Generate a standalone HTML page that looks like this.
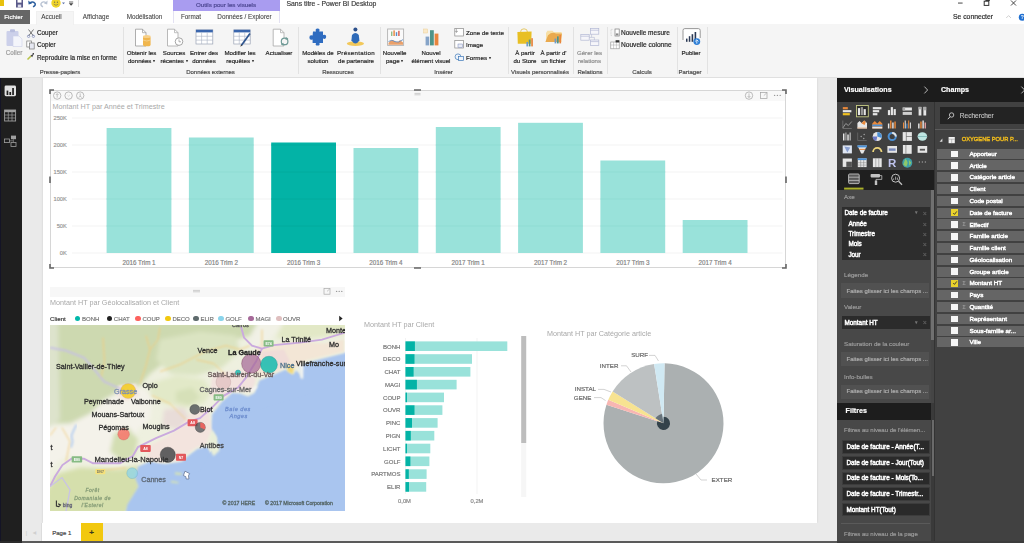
<!DOCTYPE html><html><head><meta charset="utf-8"><title>Power BI Desktop</title><style>
html,body{margin:0;padding:0;}
body{width:1024px;height:543px;position:relative;overflow:hidden;background:#eaeaea;
font-family:"Liberation Sans",sans-serif;}
.t{position:absolute;white-space:nowrap;line-height:1;-webkit-text-stroke:0.18px currentColor;}
.r{position:absolute;}
svg{position:absolute;overflow:visible;}
#wrap{position:absolute;left:0;top:0;width:1024px;height:543px;overflow:hidden;filter:blur(0.45px);}
</style></head><body><div id="wrap"><div class="r" style="left:0px;top:78px;width:22px;height:465px;background:#1f1f1f;"></div><div class="r" style="left:0px;top:78px;width:1px;height:465px;background:#141426;"></div><svg style="left:0;top:79.2px" width="22" height="80" viewBox="0 0 22 80"><rect x="4.6" y="6.6" width="11.4" height="10.6" rx="1.4" fill="#e2e2e2"/><rect x="6.6" y="11.6" width="1.7" height="4.4" fill="#1f1f1f"/><rect x="9.4" y="13" width="1.7" height="3" fill="#1f1f1f"/><rect x="12.2" y="9" width="1.7" height="7" fill="#1f1f1f"/><rect x="4.6" y="31" width="11" height="11" fill="none" stroke="#a0a0a0" stroke-width="0.9"/><rect x="4.6" y="31" width="11" height="2.2" fill="#a0a0a0"/><path d="M8.3 31 L8.3 42 M12 31 L12 42 M4.6 36 L15.6 36 M4.6 39 L15.6 39" stroke="#a0a0a0" stroke-width="0.7"/><rect x="4.4" y="60" width="5" height="3.6" fill="none" stroke="#a0a0a0" stroke-width="0.8"/><rect x="11" y="56.6" width="5" height="3.6" fill="#a0a0a0"/><rect x="11" y="63.4" width="5" height="4" fill="none" stroke="#a0a0a0" stroke-width="0.8"/><path d="M9.4 61.8 L13.4 61.8 L13.4 60.2 M13.4 61.8 L13.4 63.4" stroke="#a0a0a0" stroke-width="0.6" fill="none"/></svg><div class="r" style="left:42.6px;top:78px;width:774.2px;height:445px;background:#ffffff;box-shadow:0 0 2px rgba(0,0,0,0.12);"></div><div class="r" style="left:22px;top:523px;width:815px;height:18.2px;background:#eaeaea;"></div><div class="r" style="left:40.5px;top:523px;width:40.5px;height:18px;background:#ffffff;border-left:1px solid #dcdcdc;box-sizing:border-box;"></div><div class="t" style="left:61.8px;top:532.8px;font-size:6.0px;color:#444;font-weight:normal;transform:translate(-50%,-50%);">Page 1</div><div class="r" style="left:81px;top:523px;width:21.5px;height:18px;background:#f2c80f;"></div><div class="t" style="left:91.7px;top:532.5px;font-size:8px;color:#3a3a20;font-weight:bold;transform:translate(-50%,-50%);">+</div><div class="t" style="left:26.5px;top:532.5px;font-size:5px;color:#cfcfcf;font-weight:normal;transform:translate(-50%,-50%);">|</div><div class="t" style="left:34.5px;top:532.5px;font-size:4px;color:#cfcfcf;font-weight:normal;transform:translate(-50%,-50%);">&#9664;</div><div class="r" style="left:0px;top:541.2px;width:837.4px;height:2px;background:#5a5a5a;"></div><div class="r" style="left:0px;top:541.2px;width:22px;height:2px;background:#2a2a2a;"></div><div class="r" style="left:50px;top:90px;width:736px;height:178px;background:#ffffff;border:0.8px solid #d6d6d6;box-sizing:border-box;"></div><div class="r" style="left:50.8px;top:90.8px;width:734.4px;height:10px;background:#f8f8f8;"></div><svg style="left:0;top:0" width="830" height="543" viewBox="0 0 830 543"><path d="M72 253 L782.5 253" stroke="#f0f0f0" stroke-width="0.8"/><path d="M72 226 L782.5 226" stroke="#f0f0f0" stroke-width="0.8"/><path d="M72 199 L782.5 199" stroke="#f0f0f0" stroke-width="0.8"/><path d="M72 172 L782.5 172" stroke="#f0f0f0" stroke-width="0.8"/><path d="M72 145 L782.5 145" stroke="#f0f0f0" stroke-width="0.8"/><path d="M72 118 L782.5 118" stroke="#f0f0f0" stroke-width="0.8"/><rect x="106.6" y="128" width="64.8" height="125" fill="#99e2da"/><rect x="188.9" y="137.5" width="64.8" height="115.5" fill="#99e2da"/><rect x="271.2" y="142.5" width="64.8" height="110.5" fill="#03b3a6"/><rect x="353.5" y="148" width="64.8" height="105" fill="#99e2da"/><rect x="435.8" y="127" width="64.8" height="126" fill="#99e2da"/><rect x="518.1" y="122.8" width="64.8" height="130.2" fill="#99e2da"/><rect x="600.4" y="160.5" width="64.8" height="92.5" fill="#99e2da"/><rect x="682.7" y="220" width="64.8" height="33" fill="#99e2da"/><path d="M106.6 226 L171.4 226" stroke="#8edcd2" stroke-width="0.8"/><path d="M106.6 199 L171.4 199" stroke="#8edcd2" stroke-width="0.8"/><path d="M106.6 172 L171.4 172" stroke="#8edcd2" stroke-width="0.8"/><path d="M106.6 145 L171.4 145" stroke="#8edcd2" stroke-width="0.8"/><path d="M188.9 226 L253.7 226" stroke="#8edcd2" stroke-width="0.8"/><path d="M188.9 199 L253.7 199" stroke="#8edcd2" stroke-width="0.8"/><path d="M188.9 172 L253.7 172" stroke="#8edcd2" stroke-width="0.8"/><path d="M188.9 145 L253.7 145" stroke="#8edcd2" stroke-width="0.8"/><path d="M271.2 226 L336.0 226" stroke="#02aa9d" stroke-width="0.8"/><path d="M271.2 199 L336.0 199" stroke="#02aa9d" stroke-width="0.8"/><path d="M271.2 172 L336.0 172" stroke="#02aa9d" stroke-width="0.8"/><path d="M271.2 145 L336.0 145" stroke="#02aa9d" stroke-width="0.8"/><path d="M353.5 226 L418.3 226" stroke="#8edcd2" stroke-width="0.8"/><path d="M353.5 199 L418.3 199" stroke="#8edcd2" stroke-width="0.8"/><path d="M353.5 172 L418.3 172" stroke="#8edcd2" stroke-width="0.8"/><path d="M435.8 226 L500.6 226" stroke="#8edcd2" stroke-width="0.8"/><path d="M435.8 199 L500.6 199" stroke="#8edcd2" stroke-width="0.8"/><path d="M435.8 172 L500.6 172" stroke="#8edcd2" stroke-width="0.8"/><path d="M435.8 145 L500.6 145" stroke="#8edcd2" stroke-width="0.8"/><path d="M518.1 226 L582.9 226" stroke="#8edcd2" stroke-width="0.8"/><path d="M518.1 199 L582.9 199" stroke="#8edcd2" stroke-width="0.8"/><path d="M518.1 172 L582.9 172" stroke="#8edcd2" stroke-width="0.8"/><path d="M518.1 145 L582.9 145" stroke="#8edcd2" stroke-width="0.8"/><path d="M600.4 226 L665.2 226" stroke="#8edcd2" stroke-width="0.8"/><path d="M600.4 199 L665.2 199" stroke="#8edcd2" stroke-width="0.8"/><path d="M600.4 172 L665.2 172" stroke="#8edcd2" stroke-width="0.8"/><path d="M682.7 226 L747.5 226" stroke="#8edcd2" stroke-width="0.8"/><path d="M50 94 L50 90 L54 90" stroke="#666" stroke-width="1.6" fill="none"/><path d="M782 90 L786 90 L786 94" stroke="#666" stroke-width="1.6" fill="none"/><path d="M50 264 L50 268 L54 268" stroke="#666" stroke-width="1.6" fill="none"/><path d="M782 268 L786 268 L786 264" stroke="#666" stroke-width="1.6" fill="none"/><path d="M414 90 L421 90 M414 268 L421 268" stroke="#666" stroke-width="1.6"/><path d="M50 176.5 L50 183 M786 176.5 L786 183" stroke="#666" stroke-width="1.6"/><path d="M414.5 93.4 L420.5 93.4 M414.5 94.8 L420.5 94.8" stroke="#bbb" stroke-width="0.7"/><circle cx="57.2" cy="95.6" r="3.7" fill="none" stroke="#a0a0a0" stroke-width="0.7"/><circle cx="68.6" cy="95.6" r="3.7" fill="none" stroke="#a0a0a0" stroke-width="0.7"/><circle cx="80.2" cy="95.6" r="3.7" fill="none" stroke="#a0a0a0" stroke-width="0.7"/><path d="M57.2 97.6 L57.2 93.8 M55.8 95 L57.2 93.6 L58.6 95" stroke="#a0a0a0" stroke-width="0.6" fill="none"/><path d="M67.4 95 L68.6 96.2 L69.8 95" stroke="#c4c4c4" stroke-width="0.6" fill="none"/><path d="M80.2 93.4 L80.2 96 M78.8 97.6 L80.2 96 L81.6 97.6" stroke="#a0a0a0" stroke-width="0.6" fill="none"/><circle cx="749" cy="95.6" r="3.7" fill="none" stroke="#a0a0a0" stroke-width="0.7"/><path d="M749 93.4 L749 97.4 M747.6 96 L749 97.6 L750.4 96" stroke="#a0a0a0" stroke-width="0.6" fill="none"/><rect x="760.6" y="92.6" width="6.4" height="5.8" fill="none" stroke="#a0a0a0" stroke-width="0.7"/><path d="M763.8 95.6 L766.8 92.8" stroke="#a0a0a0" stroke-width="0.6"/><circle cx="774.6" cy="95.4" r="0.7" fill="#999"/><circle cx="777.4" cy="95.4" r="0.7" fill="#999"/><circle cx="780.2" cy="95.4" r="0.7" fill="#999"/><path d="M405.5 338 L405.5 494 M477 338 L477 494" stroke="#eeeeee" stroke-width="0.7"/><rect x="405.5" y="341.4" width="101.8" height="9.6" fill="#99e2da"/><rect x="405.5" y="341.4" width="9.4" height="9.6" fill="#03b3a6"/><rect x="405.5" y="354.2" width="66.5" height="9.6" fill="#99e2da"/><rect x="405.5" y="354.2" width="9.0" height="9.6" fill="#03b3a6"/><rect x="405.5" y="367.0" width="64.9" height="9.6" fill="#99e2da"/><rect x="405.5" y="367.0" width="8.1" height="9.6" fill="#03b3a6"/><rect x="405.5" y="379.8" width="51.1" height="9.6" fill="#99e2da"/><rect x="405.5" y="379.8" width="11.4" height="9.6" fill="#03b3a6"/><rect x="405.5" y="392.6" width="38.5" height="9.6" fill="#99e2da"/><rect x="405.5" y="392.6" width="1.5" height="9.6" fill="#03b3a6"/><rect x="405.5" y="405.3" width="36.9" height="9.6" fill="#99e2da"/><rect x="405.5" y="405.3" width="9.0" height="9.6" fill="#03b3a6"/><rect x="405.5" y="418.1" width="32.1" height="9.6" fill="#99e2da"/><rect x="405.5" y="418.1" width="6.5" height="9.6" fill="#03b3a6"/><rect x="405.5" y="430.9" width="28.8" height="9.6" fill="#99e2da"/><rect x="405.5" y="430.9" width="5.3" height="9.6" fill="#03b3a6"/><rect x="405.5" y="443.7" width="24.8" height="9.6" fill="#99e2da"/><rect x="405.5" y="443.7" width="1.5" height="9.6" fill="#03b3a6"/><rect x="405.5" y="456.5" width="23.9" height="9.6" fill="#99e2da"/><rect x="405.5" y="456.5" width="4.9" height="9.6" fill="#03b3a6"/><rect x="405.5" y="469.3" width="21.1" height="9.6" fill="#99e2da"/><rect x="405.5" y="469.3" width="3.3" height="9.6" fill="#03b3a6"/><rect x="405.5" y="482.1" width="20.7" height="9.6" fill="#99e2da"/><rect x="405.5" y="482.1" width="3.5" height="9.6" fill="#03b3a6"/><rect x="521.2" y="336" width="5" height="161" fill="#f6f6f6"/><rect x="521.2" y="336" width="5" height="107" fill="#bdbdbd"/><path d="M663.5 423.3 L664.55 363.31 A60 60 0 1 1 606.44 404.76 Z" fill="#abb0b1"/><path d="M663.5 423.3 L606.44 404.76 A60 60 0 0 1 608.27 399.86 Z" fill="#f8b6b2"/><path d="M663.5 423.3 L608.27 399.86 A60 60 0 0 1 612.62 391.50 Z" fill="#f7e391"/><path d="M663.5 423.3 L612.62 391.50 A60 60 0 0 1 654.11 364.04 Z" fill="#bdc1c2"/><path d="M663.5 423.3 L654.11 364.04 A60 60 0 0 1 664.55 363.31 Z" fill="#d0e9f3"/><path d="M663.5 423.3 L663.62 416.70 A6.6 6.6 0 1 1 657.22 421.26 Z" fill="#33424a"/><path d="M663.5 423.3 L655.53 418.32 A9.4 9.4 0 0 1 662.03 414.02 Z" fill="#66727a"/><path d="M649 355.4 L655 355.4 L658.5 361" stroke="#b5b5b5" stroke-width="0.6" fill="none"/><path d="M621 365.8 L626.5 365.8 L631 372" stroke="#b5b5b5" stroke-width="0.6" fill="none"/><path d="M598 389.4 L604 389.4 L611 392" stroke="#b5b5b5" stroke-width="0.6" fill="none"/><path d="M594 397.6 L601 397.6 L605.6 400.6" stroke="#b5b5b5" stroke-width="0.6" fill="none"/><path d="M696 474 L701 480 L707 480" stroke="#b5b5b5" stroke-width="0.6" fill="none"/></svg><div class="t" style="left:52.5px;top:106.6px;font-size:7.2px;color:#a8a8a8;font-weight:normal;transform:translate(0,-50%);-webkit-text-stroke:0;">Montant HT par Année et Trimestre</div><div class="t" style="left:66.8px;top:254px;font-size:5.7px;color:#969696;font-weight:normal;transform:translate(-100%,-50%);">0K</div><div class="t" style="left:66.8px;top:227px;font-size:5.7px;color:#969696;font-weight:normal;transform:translate(-100%,-50%);">50K</div><div class="t" style="left:66.8px;top:200px;font-size:5.7px;color:#969696;font-weight:normal;transform:translate(-100%,-50%);">100K</div><div class="t" style="left:66.8px;top:173px;font-size:5.7px;color:#969696;font-weight:normal;transform:translate(-100%,-50%);">150K</div><div class="t" style="left:66.8px;top:146px;font-size:5.7px;color:#969696;font-weight:normal;transform:translate(-100%,-50%);">200K</div><div class="t" style="left:66.8px;top:119px;font-size:5.7px;color:#969696;font-weight:normal;transform:translate(-100%,-50%);">250K</div><div class="t" style="left:139.0px;top:263.2px;font-size:6.3px;color:#858585;font-weight:normal;transform:translate(-50%,-50%);">2016 Trim 1</div><div class="t" style="left:221.29999999999998px;top:263.2px;font-size:6.3px;color:#858585;font-weight:normal;transform:translate(-50%,-50%);">2016 Trim 2</div><div class="t" style="left:303.59999999999997px;top:263.2px;font-size:6.3px;color:#858585;font-weight:normal;transform:translate(-50%,-50%);">2016 Trim 3</div><div class="t" style="left:385.9px;top:263.2px;font-size:6.3px;color:#858585;font-weight:normal;transform:translate(-50%,-50%);">2016 Trim 4</div><div class="t" style="left:468.19999999999993px;top:263.2px;font-size:6.3px;color:#858585;font-weight:normal;transform:translate(-50%,-50%);">2017 Trim 1</div><div class="t" style="left:550.5px;top:263.2px;font-size:6.3px;color:#858585;font-weight:normal;transform:translate(-50%,-50%);">2017 Trim 2</div><div class="t" style="left:632.8px;top:263.2px;font-size:6.3px;color:#858585;font-weight:normal;transform:translate(-50%,-50%);">2017 Trim 3</div><div class="t" style="left:715.1px;top:263.2px;font-size:6.3px;color:#858585;font-weight:normal;transform:translate(-50%,-50%);">2017 Trim 4</div><div class="t" style="left:364px;top:324.5px;font-size:7.2px;color:#a8a8a8;font-weight:normal;transform:translate(0,-50%);-webkit-text-stroke:0;">Montant HT par Client</div><div class="t" style="left:400.4px;top:346.5px;font-size:6.0px;color:#777;font-weight:normal;transform:translate(-100%,-50%);">BONH</div><div class="t" style="left:400.4px;top:359.29px;font-size:6.0px;color:#777;font-weight:normal;transform:translate(-100%,-50%);">DECO</div><div class="t" style="left:400.4px;top:372.08px;font-size:6.0px;color:#777;font-weight:normal;transform:translate(-100%,-50%);">CHAT</div><div class="t" style="left:400.4px;top:384.87px;font-size:6.0px;color:#777;font-weight:normal;transform:translate(-100%,-50%);">MAGI</div><div class="t" style="left:400.4px;top:397.66px;font-size:6.0px;color:#777;font-weight:normal;transform:translate(-100%,-50%);">COUP</div><div class="t" style="left:400.4px;top:410.45px;font-size:6.0px;color:#777;font-weight:normal;transform:translate(-100%,-50%);">OUVR</div><div class="t" style="left:400.4px;top:423.24px;font-size:6.0px;color:#777;font-weight:normal;transform:translate(-100%,-50%);">PINC</div><div class="t" style="left:400.4px;top:436.03000000000003px;font-size:6.0px;color:#777;font-weight:normal;transform:translate(-100%,-50%);">PIGN</div><div class="t" style="left:400.4px;top:448.82px;font-size:6.0px;color:#777;font-weight:normal;transform:translate(-100%,-50%);">LICHT</div><div class="t" style="left:400.4px;top:461.60999999999996px;font-size:6.0px;color:#777;font-weight:normal;transform:translate(-100%,-50%);">GOLF</div><div class="t" style="left:400.4px;top:474.4px;font-size:6.0px;color:#777;font-weight:normal;transform:translate(-100%,-50%);">PARTMOS</div><div class="t" style="left:400.4px;top:487.19px;font-size:6.0px;color:#777;font-weight:normal;transform:translate(-100%,-50%);">ELIR</div><div class="t" style="left:404.5px;top:502.2px;font-size:5.8px;color:#888;font-weight:normal;transform:translate(-50%,-50%);">0,0M</div><div class="t" style="left:477px;top:502.2px;font-size:5.8px;color:#888;font-weight:normal;transform:translate(-50%,-50%);">0,2M</div><div class="t" style="left:547px;top:333.5px;font-size:7.2px;color:#a8a8a8;font-weight:normal;transform:translate(0,-50%);-webkit-text-stroke:0;">Montant HT par Catégorie article</div><div class="t" style="left:648px;top:355.4px;font-size:6.2px;color:#666;font-weight:normal;transform:translate(-100%,-50%);">SURF</div><div class="t" style="left:618.4px;top:365.8px;font-size:6.2px;color:#666;font-weight:normal;transform:translate(-100%,-50%);">INTER</div><div class="t" style="left:596px;top:389.2px;font-size:6.2px;color:#666;font-weight:normal;transform:translate(-100%,-50%);">INSTAL</div><div class="t" style="left:591.4px;top:397.6px;font-size:6.2px;color:#666;font-weight:normal;transform:translate(-100%,-50%);">GENE</div><div class="t" style="left:711.6px;top:480.4px;font-size:6.2px;color:#666;font-weight:normal;transform:translate(0,-50%);">EXTER</div><div class="r" style="left:50px;top:286.6px;width:295px;height:10.4px;background:#f7f7f7;"></div><div class="t" style="left:50px;top:302.8px;font-size:7.2px;color:#a8a8a8;font-weight:normal;transform:translate(0,-50%);-webkit-text-stroke:0;">Montant HT par Géolocalisation et Client</div><div class="t" style="left:50px;top:318.6px;font-size:6.2px;color:#3a3a3a;font-weight:normal;transform:translate(0,-50%);">Client</div><div class="r" style="left:74.69999999999999px;top:315.7px;width:5.8px;height:5.8px;background:#01b8aa;border-radius:50%;"></div><div class="t" style="left:82.0px;top:318.8px;font-size:6.0px;color:#777;font-weight:normal;transform:translate(0,-50%);">BONH</div><div class="r" style="left:106.5px;top:315.7px;width:5.8px;height:5.8px;background:#222;border-radius:50%;"></div><div class="t" style="left:113.80000000000001px;top:318.8px;font-size:6.0px;color:#777;font-weight:normal;transform:translate(0,-50%);">CHAT</div><div class="r" style="left:135.1px;top:315.7px;width:5.8px;height:5.8px;background:#fd625e;border-radius:50%;"></div><div class="t" style="left:142.4px;top:318.8px;font-size:6.0px;color:#777;font-weight:normal;transform:translate(0,-50%);">COUP</div><div class="r" style="left:165.1px;top:315.7px;width:5.8px;height:5.8px;background:#f2c80f;border-radius:50%;"></div><div class="t" style="left:172.4px;top:318.8px;font-size:6.0px;color:#777;font-weight:normal;transform:translate(0,-50%);">DECO</div><div class="r" style="left:193.1px;top:315.7px;width:5.8px;height:5.8px;background:#5f6b6d;border-radius:50%;"></div><div class="t" style="left:200.4px;top:318.8px;font-size:6.0px;color:#777;font-weight:normal;transform:translate(0,-50%);">ELIR</div><div class="r" style="left:218.1px;top:315.7px;width:5.8px;height:5.8px;background:#8ad4eb;border-radius:50%;"></div><div class="t" style="left:225.4px;top:318.8px;font-size:6.0px;color:#777;font-weight:normal;transform:translate(0,-50%);">GOLF</div><div class="r" style="left:248.1px;top:315.7px;width:5.8px;height:5.8px;background:#a66999;border-radius:50%;"></div><div class="t" style="left:255.4px;top:318.8px;font-size:6.0px;color:#777;font-weight:normal;transform:translate(0,-50%);">MAGI</div><div class="r" style="left:275.8px;top:315.7px;width:5.8px;height:5.8px;background:#dfbfbf;border-radius:50%;"></div><div class="t" style="left:283.09999999999997px;top:318.8px;font-size:6.0px;color:#777;font-weight:normal;transform:translate(0,-50%);">OUVR</div><svg style="left:338px;top:315px" width="6" height="7" viewBox="0 0 6 7"><path d="M1.2 0.8 L4.6 3.5 L1.2 6.2 Z" fill="#222"/></svg><svg style="left:190px;top:286px" width="160" height="12" viewBox="0 0 160 12"><path d="M3 4.4 L10 4.4 M3 5.8 L10 5.8" stroke="#bbb" stroke-width="0.7"/><rect x="134" y="2.6" width="6" height="5.6" fill="none" stroke="#aaa" stroke-width="0.7"/><path d="M137 5.4 L139.8 2.8" stroke="#aaa" stroke-width="0.6"/><circle cx="146.6" cy="5.4" r="0.7" fill="#999"/><circle cx="149.2" cy="5.4" r="0.7" fill="#999"/><circle cx="151.8" cy="5.4" r="0.7" fill="#999"/></svg><svg style="left:50px;top:325.4px;overflow:hidden" width="294.6" height="185.2" viewBox="50 325.4 294.6 185.2"><defs><filter id="mb" x="-5%" y="-5%" width="110%" height="110%"><feGaussianBlur stdDeviation="1.1"/></filter><filter id="mb2"><feGaussianBlur stdDeviation="2.2"/></filter></defs><rect x="50" y="325.4" width="294.6" height="185.2" fill="#eef0df"/><g filter="url(#mb2)"><path d="M46 322 L258 322 L250 336 L226 343 L208 352 L186 356 L166 362 L150 374 L140 386 L122 390 L104 400 L90 414 L70 424 L46 424 Z" fill="#cdd9b0"/><path d="M46 322 L58 322 L60 420 L46 430 Z" fill="#dde3cc"/><path d="M258 322 L284 322 L272 338 L258 350 L248 346 Z" fill="#f1f1e6"/><path d="M160 340 L200 332 L236 336 L240 352 L222 368 L196 376 L170 374 L156 360 Z" fill="#dbe4c2"/><path d="M284 322 L348 322 L348 334 L318 338 L292 342 L276 338 Z" fill="#e2e8c6"/><path d="M46 428 L72 424 L92 414 L106 400 L124 392 L142 388 L152 396 L150 420 L138 430 L130 446 L134 462 L118 466 L92 462 L70 456 L58 462 L46 474 Z" fill="#f4f2ea"/><path d="M150 384 L176 376 L204 380 L212 392 L204 404 L186 408 L164 404 L150 396 Z" fill="#e2e9c8"/><path d="M176 392 L192 388 L200 398 L190 406 L176 402 Z" fill="#d6e0b8"/><path d="M114 434 L128 428 L138 440 L134 458 L122 462 L110 452 Z" fill="#d3deb2"/><path d="M164 410 L184 408 L190 420 L178 430 L162 426 Z" fill="#e8dcd8"/><path d="M46 492 L58 474 L80 468 L118 470 L138 466 L140 490 L130 506 L126 516 L46 516 Z" fill="#d5dfac"/></g><path d="M348 352 L344 353.7 L324 358.7 L309.2 362.4 L300 366 L302.6 380 L299.5 374 L296 371 L293 375 L285.6 370 L274.4 374.8 L259.5 381 L254.5 393.5 L248 397 L240 394 L232 393.5 L222 402.2 L212.2 414.6 L211 429.6 L216 437 L219.7 452 L213.4 457.4 L207.2 447 L197.3 449.5 L187.3 457 L182.3 462 L165 464.4 L150 462 L138 467 L135 478 L138.5 487 L133 496 L127.4 505 L125 516 L348 516 Z" fill="#a9c5ef" filter="url(#mb)"/><path d="M228 420 L348 382 L348 516 L140 516 L150 482 L200 472 Z" fill="#a9c5ef"/><g filter="url(#mb)"><path d="M258 346 L296 342 L324 344 L344 340 L344 352 L322 357 L306 361 L296 368 L286 368 L274 373 L262 377 L254 372 L250 360 Z" fill="#f3e6d6"/><path d="M262 352 L284 350 L290 362 L274 370 L262 366 Z" fill="#f0dcd8"/><path d="M287 365 L294 368 L293 374.6 L287.6 372 Z" fill="#f2d878"/><path d="M299.6 364 L303.4 364 L303 379 L300.8 379 Z" fill="#f8f8f2"/><path d="M212 374 L246 370 L256 380 L252 392 L232 392 L222 400 L210 396 Z" fill="#f2e2de"/><path d="M190 414 L208 408 L211.5 430 L206 445 L196 448 L186 455 L180 461 L160 463 L146 460 L150 446 L166 438 L180 428 Z" fill="#f3e4de"/><path d="M212 430 L216.5 437.5 L219.5 451 L213.6 456.6 L208 447 Z" fill="#e9efd8"/><path d="M250 391 L256 386 L257.6 387.4 L251.6 393 Z" fill="#f7f7f4"/><path d="M175 472.6 L181.6 473.4 L181.6 475.4 L175 475 Z M171 481.2 L178.4 482.4 L178.4 483.8 L171 483 Z" fill="#d6e4b4"/><path d="M118 386 L136 384 L140 396 L126 402 L116 396 Z" fill="#f3e8e0"/></g><path d="M103 338 L104.5 362 L101 378 M146 336 L150 350 L146 366 L140 384 M160 372 L180 365 L205 352 L226 346 M150 350 L158 340 L160 328 M62 428 L70 442 L66 462 M100 471 L126 468 M56 428 L50 436 M226 346 L240 350 L250 346 M262 330 L262 346 M196 360 L214 364 L226 376 M152 396 L170 404 L186 420" stroke="#f2cd80" stroke-width="1" fill="none" filter="url(#mb)"/><path d="M50 348 L66 351 L84 358 L96 372 L104 382 L122 390" stroke="#c6c0e4" stroke-width="1.7" fill="none" filter="url(#mb)"/><path d="M76.5 425 L74 430 L71.4 436 L72.6 442 L71 448" stroke="#b4cdf0" stroke-width="1.8" fill="none" filter="url(#mb)"/><path d="M241 327 L244 338 L252 346 L262 349 L274 345.5 L300 343 L322 340 L345 333" stroke="#caaade" stroke-width="1.9" fill="none"/><path d="M262 349 L256 362 L246 378 L238 388 L224 396 L212 408 L200 418.6 L189 422 L174 431 L156 438.5 L138 447.5 L132.8 456.5 L120 463.7 L93 463.7 L84 459 L71.5 459.2 L62.4 465.5 L55 477 L50 487" stroke="#caaade" stroke-width="1.9" fill="none"/><path d="M50 487 L62 478 L70 490 L66 512" stroke="#c9c3e4" stroke-width="1.3" fill="none"/><rect x="140.25" y="445.3" width="10.5" height="7" rx="0.8" fill="#e2585c"/><text x="145.5" y="450.2" font-size="3.6" fill="#fff" text-anchor="middle" font-family="Liberation Sans" font-weight="bold">A8</text><rect x="176.0" y="454.1" width="10" height="7" rx="0.8" fill="#e2585c"/><text x="181" y="459.0" font-size="3.6" fill="#fff" text-anchor="middle" font-family="Liberation Sans" font-weight="bold">N7</text><rect x="187.6" y="419.7" width="10" height="7" rx="0.8" fill="#e2585c"/><text x="192.6" y="424.59999999999997" font-size="3.6" fill="#fff" text-anchor="middle" font-family="Liberation Sans" font-weight="bold">A8</text><rect x="71.65" y="456.6" width="10.5" height="6.4" rx="0.8" fill="#86bb84"/><text x="76.9" y="461.2" font-size="3.6" fill="#fff" text-anchor="middle" font-family="Liberation Sans" font-weight="bold">E80</text><rect x="213.6" y="394.7" width="10" height="6.2" rx="0.8" fill="#86bb84"/><text x="218.6" y="399.2" font-size="3.6" fill="#fff" text-anchor="middle" font-family="Liberation Sans" font-weight="bold">E80</text><rect x="263.6" y="340.7" width="10" height="6.2" rx="0.8" fill="#86bb84"/><text x="268.6" y="345.2" font-size="3.6" fill="#fff" text-anchor="middle" font-family="Liberation Sans" font-weight="bold">E74</text><rect x="95.3" y="469.3" width="10" height="5.4" rx="0.8" fill="#f6e27a"/><text x="100.3" y="473.4" font-size="3.6" fill="#776" text-anchor="middle" font-family="Liberation Sans" font-weight="bold">DN7</text><circle cx="223.4" cy="382.5" r="7.4" fill="#dfbfbf" fill-opacity="0.7" stroke="#b99" stroke-opacity="0.55" stroke-width="0.6"/><circle cx="238" cy="373" r="2.6" fill="#01b8aa" fill-opacity="0.75" stroke="#089" stroke-opacity="0.55" stroke-width="0.6"/><circle cx="251.2" cy="364" r="9.6" fill="#a66999" fill-opacity="0.72" stroke="#624" stroke-opacity="0.55" stroke-width="0.6"/><circle cx="269" cy="365" r="8.4" fill="#01b8aa" fill-opacity="0.78" stroke="#088" stroke-opacity="0.55" stroke-width="0.6"/><circle cx="128.2" cy="391.4" r="7.6" fill="#f2c80f" fill-opacity="0.8" stroke="#c9a" stroke-opacity="0.55" stroke-width="0.6"/><circle cx="194.8" cy="409.8" r="5" fill="#4a4f52" fill-opacity="0.8" stroke="#333" stroke-opacity="0.55" stroke-width="0.6"/><circle cx="200.3" cy="427.8" r="5" fill="#4a4f52" fill-opacity="0.75" stroke="#333" stroke-opacity="0.55" stroke-width="0.6"/><path d="M200.3 427.8 L200.3 422.8 A5 5 0 0 1 204.8 430 Z" fill="#fd625e" fill-opacity="0.85"/><circle cx="123.6" cy="434.6" r="5.8" fill="#fd625e" fill-opacity="0.72" stroke="#c55" stroke-opacity="0.55" stroke-width="0.6"/><circle cx="167.8" cy="455.2" r="7.6" fill="#3c3f41" fill-opacity="0.8" stroke="#222" stroke-opacity="0.55" stroke-width="0.6"/><circle cx="132.2" cy="473.6" r="5.4" fill="#8ad4eb" fill-opacity="0.72" stroke="#6ab" stroke-opacity="0.55" stroke-width="0.6"/><path d="M185 471.6 L189.6 474 L188.4 476.2 L189 479.4 L186.2 479.4 L185.8 477 L183.4 476 Z" fill="#fff" stroke="#5c6c8c" stroke-width="0.7"/></svg><div class="r" style="left:50px;top:325.4px;width:294.6px;height:185.2px;overflow:hidden;"><div class="r" style="left:-50px;top:-325.4px;width:1024px;height:543px;"><div class="t" style="left:56px;top:366.6px;font-size:7.2px;color:#2e2e2e;font-weight:normal;transform:translate(0,-50%);-webkit-text-stroke:0.3px currentColor;">Saint-Vallier-de-Thiey</div><div class="t" style="left:142.5px;top:385.6px;font-size:7.2px;color:#2e2e2e;font-weight:normal;transform:translate(0,-50%);-webkit-text-stroke:0.3px currentColor;">Opio</div><div class="t" style="left:114px;top:392px;font-size:7.2px;color:#7d8fb3;font-weight:normal;transform:translate(0,-50%);-webkit-text-stroke:0.3px currentColor;">Grasse</div><div class="t" style="left:84px;top:402px;font-size:7.2px;color:#2e2e2e;font-weight:normal;transform:translate(0,-50%);-webkit-text-stroke:0.3px currentColor;">Peymeinade</div><div class="t" style="left:131px;top:402px;font-size:7.2px;color:#2e2e2e;font-weight:normal;transform:translate(0,-50%);-webkit-text-stroke:0.3px currentColor;">Valbonne</div><div class="t" style="left:91.5px;top:415.4px;font-size:7.2px;color:#2e2e2e;font-weight:normal;transform:translate(0,-50%);-webkit-text-stroke:0.3px currentColor;">Mouans-Sartoux</div><div class="t" style="left:98.5px;top:428px;font-size:7.2px;color:#2e2e2e;font-weight:normal;transform:translate(0,-50%);-webkit-text-stroke:0.3px currentColor;">Pégomas</div><div class="t" style="left:142.5px;top:427.2px;font-size:7.2px;color:#2e2e2e;font-weight:normal;transform:translate(0,-50%);-webkit-text-stroke:0.3px currentColor;">Mougins</div><div class="t" style="left:197.5px;top:350.8px;font-size:7.2px;color:#2e2e2e;font-weight:normal;transform:translate(0,-50%);-webkit-text-stroke:0.3px currentColor;">Vence</div><div class="t" style="left:228px;top:352.6px;font-size:7.2px;color:#222;font-weight:normal;transform:translate(0,-50%);-webkit-text-stroke:0.3px currentColor;font-weight:bold;">La Gaude</div><div class="t" style="left:207.6px;top:375.4px;font-size:7.2px;color:#6a5a5a;font-weight:normal;transform:translate(0,-50%);-webkit-text-stroke:0.3px currentColor;">Saint-Laurent-du-Var</div><div class="t" style="left:199.5px;top:389.8px;font-size:7.2px;color:#666;font-weight:normal;transform:translate(0,-50%);-webkit-text-stroke:0.3px currentColor;">Cagnes-sur-Mer</div><div class="t" style="left:281.5px;top:339.8px;font-size:7.2px;color:#2e2e2e;font-weight:normal;transform:translate(0,-50%);-webkit-text-stroke:0.3px currentColor;">La Trinité</div><div class="t" style="left:326px;top:331.4px;font-size:7.2px;color:#2e2e2e;font-weight:normal;transform:translate(0,-50%);-webkit-text-stroke:0.3px currentColor;">Monte</div><div class="t" style="left:329px;top:345px;font-size:7.2px;color:#2e2e2e;font-weight:normal;transform:translate(0,-50%);-webkit-text-stroke:0.3px currentColor;">Mo</div><div class="t" style="left:280px;top:366.4px;font-size:7.2px;color:#4b6f8a;font-weight:normal;transform:translate(0,-50%);-webkit-text-stroke:0.3px currentColor;">Nice</div><div class="t" style="left:296px;top:364px;font-size:7.2px;color:#2e2e2e;font-weight:normal;transform:translate(0,-50%);-webkit-text-stroke:0.3px currentColor;">Villefranche-sur</div><div class="t" style="left:232px;top:326px;font-size:5.6px;color:#555;font-weight:normal;transform:translate(0,-50%);-webkit-text-stroke:0.3px currentColor;">Carros</div><div class="t" style="left:200px;top:410px;font-size:7.2px;color:#2e2e2e;font-weight:normal;transform:translate(0,-50%);-webkit-text-stroke:0.3px currentColor;">Biot</div><div class="t" style="left:199.8px;top:445.5px;font-size:7.2px;color:#444;font-weight:normal;transform:translate(0,-50%);-webkit-text-stroke:0.3px currentColor;">Antibes</div><div class="t" style="left:94.5px;top:459.6px;font-size:7.55px;color:#333;font-weight:normal;transform:translate(0,-50%);-webkit-text-stroke:0.3px currentColor;">Mandelieu-la-Napoule</div><div class="t" style="left:141.2px;top:480px;font-size:7.2px;color:#5f6a78;font-weight:normal;transform:translate(0,-50%);-webkit-text-stroke:0.3px currentColor;">Cannes</div><div class="t" style="left:50.4px;top:447.5px;font-size:7.2px;color:#2e2e2e;font-weight:normal;transform:translate(0,-50%);-webkit-text-stroke:0.3px currentColor;">t</div><div class="t" style="left:50.4px;top:464.5px;font-size:7.2px;color:#2e2e2e;font-weight:normal;transform:translate(0,-50%);-webkit-text-stroke:0.3px currentColor;">t</div><div class="t" style="left:238px;top:409.7px;font-size:5.6px;color:#6f8fcf;font-weight:normal;transform:translate(-50%,-50%);-webkit-text-stroke:0.3px currentColor;font-style:italic;letter-spacing:0.5px;">Baie des</div><div class="t" style="left:238.6px;top:417px;font-size:5.6px;color:#6f8fcf;font-weight:normal;transform:translate(-50%,-50%);-webkit-text-stroke:0.3px currentColor;font-style:italic;letter-spacing:0.5px;">Anges</div><div class="t" style="left:92.6px;top:490px;font-size:5px;color:#8aa07a;font-weight:normal;transform:translate(-50%,-50%);-webkit-text-stroke:0.3px currentColor;font-style:italic;letter-spacing:0.5px;">Forêt</div><div class="t" style="left:92.6px;top:497.6px;font-size:5px;color:#8aa07a;font-weight:normal;transform:translate(-50%,-50%);-webkit-text-stroke:0.3px currentColor;font-style:italic;letter-spacing:0.5px;">Domaniale de</div><div class="t" style="left:92.6px;top:505px;font-size:5px;color:#8aa07a;font-weight:normal;transform:translate(-50%,-50%);-webkit-text-stroke:0.3px currentColor;font-style:italic;letter-spacing:0.5px;">l'Esterel</div><div class="t" style="left:62.8px;top:505px;font-size:5px;color:#667;font-weight:normal;transform:translate(0,-50%);-webkit-text-stroke:0.3px currentColor;">bing</div><svg style="left:54px;top:500px" width="8" height="8" viewBox="0 0 8 8"><path d="M2.4 0.6 L2.4 6 L4.8 6.6 L6.4 5 L4.2 3.8" stroke="#333" stroke-width="1.1" fill="none"/></svg><div class="t" style="left:222.6px;top:504.4px;font-size:5.2px;color:#566;font-weight:normal;transform:translate(0,-50%);-webkit-text-stroke:0.3px currentColor;">© 2017 HERE</div><div class="t" style="left:265px;top:504.4px;font-size:5.2px;color:#566;font-weight:normal;transform:translate(0,-50%);-webkit-text-stroke:0.3px currentColor;">© 2017 Microsoft Corporation</div></div></div><div class="r" style="left:837.4px;top:78px;width:97.3px;height:465px;background:#484848;"></div><div class="r" style="left:837.4px;top:78px;width:97.3px;height:24px;background:#1c1c1c;"></div><div class="t" style="left:844px;top:90.6px;font-size:7.1px;color:#fff;font-weight:bold;transform:translate(0,-50%);">Visualisations</div><svg style="left:922px;top:85px" width="8" height="10" viewBox="0 0 8 10"><path d="M2.4 1.6 L5.6 5 L2.4 8.4" stroke="#ddd" stroke-width="0.8" fill="none"/></svg><div class="r" style="left:837.4px;top:102px;width:97.3px;height:67.7px;background:#404040;"></div><div class="r" style="left:837.4px;top:169.7px;width:97.3px;height:20.3px;background:#1f1f1f;"></div><svg style="left:0;top:0" width="1024" height="543" viewBox="0 0 1024 543"><rect x="842.8" y="107.1" width="5" height="2.2" fill="#e8883a"/><rect x="842.8" y="110.1" width="8.6" height="2.2" fill="#e6e6e6"/><rect x="842.8" y="113.1" width="7" height="2.2" fill="#f0c020"/><rect x="856.5" y="105.5" width="11.8" height="11.3" fill="#2a2a2a" stroke="#c6ca84" stroke-width="0.9"/><rect x="857.90" y="108.1" width="2.17" height="7" fill="#e6e6e6"/><rect x="860.77" y="107.1" width="2.17" height="8" fill="#999"/><rect x="863.63" y="109.1" width="2.17" height="6" fill="#e6e6e6"/><rect x="872.8" y="107.1" width="8.6" height="2.2" fill="#e6e6e6"/><rect x="872.8" y="110.1" width="6.4" height="2.2" fill="#e6e6e6"/><rect x="872.8" y="113.1" width="4.6" height="2.2" fill="#e6e6e6"/><rect x="887.90" y="110.1" width="2.17" height="5" fill="#e6e6e6"/><rect x="890.77" y="107.1" width="2.17" height="8" fill="#e6e6e6"/><rect x="893.63" y="109.1" width="2.17" height="6" fill="#e6e6e6"/><rect x="902.6999999999999" y="107.5" width="9.2" height="3" fill="#e6e6e6"/><rect x="902.6999999999999" y="111.89999999999999" width="9.2" height="3" fill="#cfcfcf"/><rect x="902.6999999999999" y="107.5" width="2.4" height="3" fill="#aaa"/><rect x="918.6" y="106.89999999999999" width="2.8" height="8.6" fill="#e6e6e6"/><rect x="923.4" y="106.89999999999999" width="2.8" height="8.6" fill="#e6e6e6"/><rect x="918.6" y="106.89999999999999" width="2.8" height="2.4" fill="#aaa"/><rect x="923.4" y="106.89999999999999" width="2.8" height="3.4" fill="#aaa"/><path d="M842.8 128.0 L845.8 123.5 L848.3 125.5 L851.8 121.5" stroke="#aaa" stroke-width="0.8" fill="none"/><path d="M842.8 120.5 L842.8 128.5 L851.8 128.5" stroke="#888" stroke-width="0.6" fill="none"/><path d="M857.4000000000001 128.5 L857.4000000000001 123.0 L859.6 120.9 L861.6 123.0 L864.2 120.5 L867.0 123.0 L867.0 128.5 Z" fill="#e6e6e6"/><path d="M861.4000000000001 123.3 L864.2 120.5 L865.8000000000001 122.1 L864.6 125.1 Z" fill="#e8883a"/><rect x="857.4000000000001" y="127.5" width="9.6" height="1" fill="#e6b48a"/><path d="M872.3 128.5 L872.3 123.5 L874.8 121.0 L877.3 123.5 L879.8 121.0 L882.3 123.5 L882.3 128.5 Z" fill="#e8883a"/><rect x="872.3" y="124.5" width="10" height="2" fill="#4a8fd4"/><rect x="872.3" y="126.9" width="10" height="1.6" fill="#e6e6e6"/><rect x="887.90" y="123.5" width="1.45" height="5" fill="#e6e6e6"/><rect x="890.05" y="120.5" width="1.45" height="8" fill="#e8883a"/><rect x="892.20" y="122.5" width="1.45" height="6" fill="#e6e6e6"/><rect x="894.35" y="121.5" width="1.45" height="7" fill="#e8883a"/><rect x="903.00" y="122.5" width="1.02" height="6" fill="#e8883a"/><rect x="904.72" y="120.5" width="1.02" height="8" fill="#e6e6e6"/><rect x="906.44" y="123.5" width="1.02" height="5" fill="#4a8fd4"/><rect x="908.16" y="120.5" width="1.02" height="8" fill="#e8883a"/><rect x="909.88" y="122.5" width="1.02" height="6" fill="#e6e6e6"/><rect x="918.10" y="123.5" width="1.45" height="5" fill="#e6e6e6"/><rect x="920.25" y="121.5" width="1.45" height="7" fill="#e8883a"/><rect x="922.40" y="120.5" width="1.45" height="8" fill="#e6e6e6"/><rect x="924.55" y="122.5" width="1.45" height="6" fill="#d99"/><rect x="843.00" y="133.5" width="1.45" height="7" fill="#e6e6e6"/><rect x="845.15" y="132.5" width="1.45" height="8" fill="#999"/><rect x="847.30" y="134.5" width="1.45" height="6" fill="#e6e6e6"/><rect x="849.45" y="132.5" width="1.45" height="8" fill="#aaa"/><path d="M857.7 132.5 L857.7 140.5 L866.7 140.5" stroke="#777" stroke-width="0.6" fill="none"/><circle cx="861.2" cy="136.5" r="0.8" fill="#999"/><circle cx="864.2" cy="134.5" r="0.8" fill="#999"/><circle cx="863.7" cy="138.5" r="0.8" fill="#999"/><circle cx="877.3" cy="136.5" r="4.6" fill="#e6e6e6"/><path d="M877.3 136.5 L877.3 131.9 A4.6 4.6 0 0 1 881.6999999999999 137.9 Z" fill="#4a8fd4"/><path d="M877.3 136.5 L872.6999999999999 136.5 A4.6 4.6 0 0 0 876.3 141.0 Z" fill="#6a78c8"/><circle cx="892.2" cy="136.5" r="3.6" fill="none" stroke="#4a8fd4" stroke-width="2"/><path d="M892.2 132.9 A3.6 3.6 0 0 1 895.8000000000001 136.5" stroke="#e6e6e6" stroke-width="2" fill="none"/><rect x="902.6999999999999" y="132.1" width="9.2" height="8.8" fill="#e6e6e6"/><path d="M906.3 132.1 L906.3 140.9 M906.3 136.5 L911.9 136.5" stroke="#555" stroke-width="0.6"/><ellipse cx="922.4" cy="136.5" rx="4.8" ry="4.2" fill="#bfe6e2"/><path d="M917.8 136.5 L927.0 136.5" stroke="#6aa" stroke-width="0.6"/><rect x="842.6999999999999" y="145.4" width="9.2" height="8" fill="#dfe6f2"/><path d="M844.3 146.4 L847.3 152.4 L850.3 147.4 Z" fill="#8aa0d0"/><path d="M857.4000000000001 145.4 L867.0 145.4 L863.2 153.4 L861.2 153.4 Z" fill="#e6e6e6"/><rect x="857.4000000000001" y="145.4" width="9.6" height="2" fill="#4a8fd4"/><path d="M859.2 149.4 L865.2 149.4" stroke="#e8883a" stroke-width="1"/><path d="M873.0999999999999 152.0 A4.2 4.2 0 0 1 881.5 152.0" stroke="#ecd47a" stroke-width="1.8" fill="none"/><rect x="887.4000000000001" y="146.0" width="9.6" height="6.8" fill="#e6e6e6"/><rect x="888.8000000000001" y="148.4" width="6.8" height="2.4" fill="#7788bb"/><rect x="902.9" y="145.0" width="8.8" height="8.8" fill="#e6e6e6"/><path d="M905.9 145.0 L905.9 153.8" stroke="#777" stroke-width="0.7"/><rect x="917.6" y="146.0" width="9.6" height="6.8" fill="#e6e6e6"/><rect x="919.8" y="148.8" width="5.2" height="1.8" fill="#555"/><rect x="842.6999999999999" y="158.5" width="9.2" height="8.4" fill="#e6e6e6"/><path d="M846.3 161.7 L851.9 161.7 L851.9 166.89999999999998 L846.3 166.89999999999998 Z" fill="#555"/><rect x="857.8000000000001" y="158.29999999999998" width="8.8" height="8.8" fill="#e6e6e6"/><path d="M860.7 158.29999999999998 L860.7 167.1 M863.7 158.29999999999998 L863.7 167.1" stroke="#888" stroke-width="0.6"/><rect x="872.9" y="158.29999999999998" width="8.8" height="8.8" fill="#e6e6e6"/><path d="M875.8 158.29999999999998 L875.8 167.1 M878.8 158.29999999999998 L878.8 167.1" stroke="#888" stroke-width="0.6"/><rect x="857.8000000000001" y="158.29999999999998" width="8.8" height="1.8" fill="#4a8fd4"/><path d="M857.8000000000001 162.7 L866.6 162.7 M857.8000000000001 165.1 L866.6 165.1" stroke="#888" stroke-width="0.5"/><text x="892.2" y="166.89999999999998" font-size="11.5" font-family="Liberation Sans" font-weight="bold" fill="#c0c4ee" text-anchor="middle">R</text><circle cx="907.3" cy="162.7" r="5" fill="#3f9fa8"/><path d="M905.3 158.7 Q909.3 161.7 906.3 166.7 L903.3 164.7 Z" fill="#8fc86a"/><path d="M908.8 159.7 L911.3 162.7 L909.3 165.7 Z" fill="#8fc86a"/><circle cx="919.4" cy="162.1" r="0.75" fill="#999"/><circle cx="922.4" cy="162.1" r="0.75" fill="#999"/><circle cx="925.4" cy="162.1" r="0.75" fill="#999"/><rect x="848.6" y="174" width="10.6" height="9.6" rx="1" fill="#5a5a5a" stroke="#c2c2c2" stroke-width="0.9"/><path d="M848.6 177.2 L859.2 177.2 M848.6 180.4 L859.2 180.4" stroke="#c2c2c2" stroke-width="0.8"/><rect x="844.1" y="187.6" width="19.4" height="2" fill="#aab02a"/><rect x="870.6" y="174" width="9.4" height="3.4" rx="0.8" fill="#c2c2c2"/><path d="M880 175.6 L881.8 175.6 L881.8 179.4 L876 179.4 L876 181" stroke="#c2c2c2" stroke-width="0.8" fill="none"/><rect x="874.8" y="180.6" width="2.4" height="4.4" fill="#c2c2c2"/><circle cx="895.6" cy="178.2" r="4" fill="none" stroke="#c2c2c2" stroke-width="1"/><path d="M898.6 181.2 L902 184.8" stroke="#c2c2c2" stroke-width="1.3"/><path d="M893.6 179.8 L893.6 178.4 M895.6 179.8 L895.6 176.6 M897.4 179.8 L897.4 177.6" stroke="#c2c2c2" stroke-width="0.8"/></svg><div class="t" style="left:844px;top:197px;font-size:6.2px;color:#9c9c9c;font-weight:normal;transform:translate(0,-50%);">Axe</div><div class="r" style="left:842px;top:207px;width:87.6px;height:53px;background:#2d2d2d;"></div><div class="t" style="left:844.5px;top:213.4px;font-size:6.35px;color:#fff;font-weight:normal;transform:translate(0,-50%);-webkit-text-stroke:0.42px currentColor;">Date de facture</div><div class="t" style="left:848.4px;top:224.2px;font-size:6.35px;color:#fff;font-weight:normal;transform:translate(0,-50%);-webkit-text-stroke:0.42px currentColor;">Année</div><div class="t" style="left:924.8px;top:224.2px;font-size:7px;color:#606060;font-weight:normal;transform:translate(-50%,-50%);margin-top:-0.6px;">×</div><div class="t" style="left:848.4px;top:234.29999999999998px;font-size:6.35px;color:#fff;font-weight:normal;transform:translate(0,-50%);-webkit-text-stroke:0.42px currentColor;">Trimestre</div><div class="t" style="left:924.8px;top:234.29999999999998px;font-size:7px;color:#606060;font-weight:normal;transform:translate(-50%,-50%);margin-top:-0.6px;">×</div><div class="t" style="left:848.4px;top:244.39999999999998px;font-size:6.35px;color:#fff;font-weight:normal;transform:translate(0,-50%);-webkit-text-stroke:0.42px currentColor;">Mois</div><div class="t" style="left:924.8px;top:244.39999999999998px;font-size:7px;color:#606060;font-weight:normal;transform:translate(-50%,-50%);margin-top:-0.6px;">×</div><div class="t" style="left:848.4px;top:254.5px;font-size:6.35px;color:#fff;font-weight:normal;transform:translate(0,-50%);-webkit-text-stroke:0.42px currentColor;">Jour</div><div class="t" style="left:924.8px;top:254.5px;font-size:7px;color:#606060;font-weight:normal;transform:translate(-50%,-50%);margin-top:-0.6px;">×</div><div class="t" style="left:916.5px;top:213.4px;font-size:4.5px;color:#7a7a7a;font-weight:normal;transform:translate(-50%,-50%);">&#9662;</div><div class="t" style="left:924.8px;top:213.4px;font-size:7px;color:#606060;font-weight:normal;transform:translate(-50%,-50%);margin-top:-0.6px;">×</div><div class="t" style="left:844px;top:275px;font-size:6.2px;color:#9c9c9c;font-weight:normal;transform:translate(0,-50%);">Légende</div><div class="r" style="left:841.4px;top:282.8px;width:88px;height:15.4px;background:#515151;"></div><div class="t" style="left:846.5px;top:290.8px;font-size:6.0px;color:#b0b0b0;font-weight:normal;transform:translate(0,-50%);">Faites glisser ici les champs ...</div><div class="t" style="left:844px;top:307.2px;font-size:6.2px;color:#9c9c9c;font-weight:normal;transform:translate(0,-50%);">Valeur</div><div class="r" style="left:842px;top:316.4px;width:87.6px;height:12.8px;background:#2b2b2b;"></div><div class="t" style="left:844.5px;top:323.2px;font-size:6.35px;color:#fff;font-weight:normal;transform:translate(0,-50%);-webkit-text-stroke:0.42px currentColor;">Montant HT</div><div class="t" style="left:916.5px;top:323px;font-size:4.5px;color:#7a7a7a;font-weight:normal;transform:translate(-50%,-50%);">&#9662;</div><div class="t" style="left:924.8px;top:323px;font-size:7px;color:#606060;font-weight:normal;transform:translate(-50%,-50%);margin-top:-0.6px;">×</div><div class="t" style="left:844px;top:344.4px;font-size:6.2px;color:#9c9c9c;font-weight:normal;transform:translate(0,-50%);">Saturation de la couleur</div><div class="r" style="left:841.4px;top:352.4px;width:88px;height:14px;background:#515151;"></div><div class="t" style="left:846.5px;top:359.2px;font-size:6.0px;color:#b0b0b0;font-weight:normal;transform:translate(0,-50%);">Faites glisser ici les champs ...</div><div class="t" style="left:844px;top:376.8px;font-size:6.2px;color:#9c9c9c;font-weight:normal;transform:translate(0,-50%);">Info-bulles</div><div class="r" style="left:841.4px;top:385px;width:88px;height:14px;background:#515151;"></div><div class="t" style="left:846.5px;top:391.2px;font-size:6.0px;color:#b0b0b0;font-weight:normal;transform:translate(0,-50%);">Faites glisser ici les champs ...</div><div class="r" style="left:931px;top:190px;width:3px;height:212.5px;background:#454545;"></div><div class="r" style="left:931px;top:190px;width:3px;height:150px;background:#707070;"></div><div class="r" style="left:837.4px;top:402.5px;width:93.5px;height:17.5px;background:#1d1d1d;"></div><div class="t" style="left:845.6px;top:412.2px;font-size:7.1px;color:#fff;font-weight:bold;transform:translate(0,-50%);">Filtres</div><div class="t" style="left:844px;top:430px;font-size:6.0px;color:#9c9c9c;font-weight:normal;transform:translate(0,-50%);">Filtres au niveau de l'élémen...</div><div class="r" style="left:842px;top:440.4px;width:87.6px;height:13.6px;background:#2a2a2a;border:0.6px solid #3c3c3c;box-sizing:border-box;"></div><div class="t" style="left:846.4px;top:447.2px;font-size:6.35px;color:#fff;font-weight:normal;transform:translate(0,-50%);-webkit-text-stroke:0.42px currentColor;">Date de facture - Année(T...</div><div class="r" style="left:842px;top:456.0px;width:87.6px;height:13.6px;background:#2a2a2a;border:0.6px solid #3c3c3c;box-sizing:border-box;"></div><div class="t" style="left:846.4px;top:462.8px;font-size:6.35px;color:#fff;font-weight:normal;transform:translate(0,-50%);-webkit-text-stroke:0.42px currentColor;">Date de facture - Jour(Tout)</div><div class="r" style="left:842px;top:471.59999999999997px;width:87.6px;height:13.6px;background:#2a2a2a;border:0.6px solid #3c3c3c;box-sizing:border-box;"></div><div class="t" style="left:846.4px;top:478.4px;font-size:6.35px;color:#fff;font-weight:normal;transform:translate(0,-50%);-webkit-text-stroke:0.42px currentColor;">Date de facture - Mois(To...</div><div class="r" style="left:842px;top:487.2px;width:87.6px;height:13.6px;background:#2a2a2a;border:0.6px solid #3c3c3c;box-sizing:border-box;"></div><div class="t" style="left:846.4px;top:494.0px;font-size:6.35px;color:#fff;font-weight:normal;transform:translate(0,-50%);-webkit-text-stroke:0.42px currentColor;">Date de facture - Trimestr...</div><div class="r" style="left:842px;top:502.79999999999995px;width:87.6px;height:13.6px;background:#2a2a2a;border:0.6px solid #3c3c3c;box-sizing:border-box;"></div><div class="t" style="left:846.4px;top:509.59999999999997px;font-size:6.35px;color:#fff;font-weight:normal;transform:translate(0,-50%);-webkit-text-stroke:0.42px currentColor;">Montant HT(Tout)</div><div class="r" style="left:841.4px;top:523.4px;width:88.4px;height:0.7px;background:#5a5a5a;"></div><div class="t" style="left:844px;top:533.8px;font-size:6.0px;color:#9c9c9c;font-weight:normal;transform:translate(0,-50%);">Filtres au niveau de la page</div><div class="r" style="left:931.2px;top:402.5px;width:3.2px;height:140px;background:#3a3a3a;"></div><div class="r" style="left:931.6px;top:420px;width:2.4px;height:56px;background:#6a6a6a;"></div><div class="r" style="left:934px;top:102px;width:3.8px;height:441px;background:#333333;"></div><div class="r" style="left:935px;top:78px;width:89px;height:465px;background:#414141;"></div><div class="r" style="left:935px;top:78px;width:89px;height:24px;background:#1c1c1c;"></div><div class="t" style="left:941px;top:90.6px;font-size:7.1px;color:#fff;font-weight:bold;transform:translate(0,-50%);">Champs</div><svg style="left:1018px;top:85px" width="8" height="10" viewBox="0 0 8 10"><path d="M3.4 1.6 L6.6 5 L3.4 8.4" stroke="#ddd" stroke-width="0.8" fill="none"/></svg><div class="r" style="left:940px;top:107.2px;width:84px;height:16.7px;background:#232323;"></div><svg style="left:946px;top:110.6px" width="10" height="10" viewBox="0 0 10 10"><circle cx="5.6" cy="4" r="2.2" fill="none" stroke="#ddd" stroke-width="0.8"/><path d="M4 5.8 L1.8 8.2" stroke="#ddd" stroke-width="0.9"/></svg><div class="t" style="left:959.8px;top:115.8px;font-size:6.55px;color:#bdbdbd;font-weight:normal;transform:translate(0,-50%);">Rechercher</div><div class="r" style="left:935px;top:129px;width:89px;height:0.7px;background:#5c5c5c;"></div><svg style="left:938px;top:135px" width="20" height="10" viewBox="0 0 20 10"><path d="M4.4 3.6 L4.4 6.8 L1.6 6.8 Z" fill="#ddd"/><rect x="10.6" y="2" width="6.2" height="6.2" fill="#f2f2f2"/><path d="M10.6 4.2 L16.8 4.2 M13.7 4.2 L13.7 8.2" stroke="#888" stroke-width="0.5"/></svg><div class="t" style="left:961.7px;top:140px;font-size:5.75px;color:#e8b61e;font-weight:normal;transform:translate(0,-50%);-webkit-text-stroke:0.42px currentColor;">OXYGENE POUR P...</div><div class="r" style="left:937.4px;top:148.7px;width:86.6px;height:10px;background:#656565;"></div><div class="r" style="left:951.4px;top:150.5px;width:6.5px;height:6.5px;background:#f6f6f6;"></div><div class="t" style="left:969.4px;top:153.79999999999998px;font-size:6.25px;color:#fff;font-weight:normal;transform:translate(0,-50%);-webkit-text-stroke:0.42px currentColor;">Apporteur</div><div class="r" style="left:937.4px;top:160.48999999999998px;width:86.6px;height:10px;background:#656565;"></div><div class="r" style="left:951.4px;top:162.29px;width:6.5px;height:6.5px;background:#f6f6f6;"></div><div class="t" style="left:969.4px;top:165.58999999999997px;font-size:6.25px;color:#fff;font-weight:normal;transform:translate(0,-50%);-webkit-text-stroke:0.42px currentColor;">Article</div><div class="r" style="left:937.4px;top:172.27999999999997px;width:86.6px;height:10px;background:#656565;"></div><div class="r" style="left:951.4px;top:174.07999999999998px;width:6.5px;height:6.5px;background:#f6f6f6;"></div><div class="t" style="left:969.4px;top:177.37999999999997px;font-size:6.25px;color:#fff;font-weight:normal;transform:translate(0,-50%);-webkit-text-stroke:0.42px currentColor;">Catégorie article</div><div class="r" style="left:937.4px;top:184.07px;width:86.6px;height:10px;background:#656565;"></div><div class="r" style="left:951.4px;top:185.87px;width:6.5px;height:6.5px;background:#f6f6f6;"></div><div class="t" style="left:969.4px;top:189.17px;font-size:6.25px;color:#fff;font-weight:normal;transform:translate(0,-50%);-webkit-text-stroke:0.42px currentColor;">Client</div><div class="r" style="left:937.4px;top:195.85999999999999px;width:86.6px;height:10px;background:#656565;"></div><div class="r" style="left:951.4px;top:197.66px;width:6.5px;height:6.5px;background:#f6f6f6;"></div><div class="t" style="left:969.4px;top:200.95999999999998px;font-size:6.25px;color:#fff;font-weight:normal;transform:translate(0,-50%);-webkit-text-stroke:0.42px currentColor;">Code postal</div><div class="r" style="left:937.4px;top:207.64999999999998px;width:86.6px;height:10px;background:#656565;"></div><div class="r" style="left:951.4px;top:209.45px;width:6.5px;height:6.5px;background:#ead22c;"></div><svg style="left:951.6px;top:209.64999999999998px" width="6" height="6" viewBox="0 0 6 6"><path d="M1.2 3 L2.5 4.4 L4.8 1.4" stroke="#333" stroke-width="0.9" fill="none"/></svg><div class="t" style="left:969.4px;top:212.74999999999997px;font-size:6.25px;color:#fff;font-weight:normal;transform:translate(0,-50%);-webkit-text-stroke:0.42px currentColor;">Date de facture</div><div class="r" style="left:937.4px;top:219.44px;width:86.6px;height:10px;background:#656565;"></div><div class="r" style="left:951.4px;top:221.24px;width:6.5px;height:6.5px;background:#f6f6f6;"></div><div class="t" style="left:964px;top:224.44px;font-size:5px;color:#9a9a9a;font-weight:normal;transform:translate(-50%,-50%);">Σ</div><div class="t" style="left:969.4px;top:224.54px;font-size:6.25px;color:#fff;font-weight:normal;transform:translate(0,-50%);-webkit-text-stroke:0.42px currentColor;">Effectif</div><div class="r" style="left:937.4px;top:231.23px;width:86.6px;height:10px;background:#656565;"></div><div class="r" style="left:951.4px;top:233.03px;width:6.5px;height:6.5px;background:#f6f6f6;"></div><div class="t" style="left:969.4px;top:236.32999999999998px;font-size:6.25px;color:#fff;font-weight:normal;transform:translate(0,-50%);-webkit-text-stroke:0.42px currentColor;">Famille article</div><div class="r" style="left:937.4px;top:243.01999999999998px;width:86.6px;height:10px;background:#656565;"></div><div class="r" style="left:951.4px;top:244.82px;width:6.5px;height:6.5px;background:#f6f6f6;"></div><div class="t" style="left:969.4px;top:248.11999999999998px;font-size:6.25px;color:#fff;font-weight:normal;transform:translate(0,-50%);-webkit-text-stroke:0.42px currentColor;">Famille client</div><div class="r" style="left:937.4px;top:254.80999999999995px;width:86.6px;height:10px;background:#656565;"></div><div class="r" style="left:951.4px;top:256.60999999999996px;width:6.5px;height:6.5px;background:#f6f6f6;"></div><div class="t" style="left:969.4px;top:259.90999999999997px;font-size:6.25px;color:#fff;font-weight:normal;transform:translate(0,-50%);-webkit-text-stroke:0.42px currentColor;">Géolocalisation</div><div class="r" style="left:937.4px;top:266.59999999999997px;width:86.6px;height:10px;background:#656565;"></div><div class="r" style="left:951.4px;top:268.4px;width:6.5px;height:6.5px;background:#f6f6f6;"></div><div class="t" style="left:969.4px;top:271.7px;font-size:6.25px;color:#fff;font-weight:normal;transform:translate(0,-50%);-webkit-text-stroke:0.42px currentColor;">Groupe article</div><div class="r" style="left:937.4px;top:278.39px;width:86.6px;height:10px;background:#656565;"></div><div class="r" style="left:951.4px;top:280.19px;width:6.5px;height:6.5px;background:#ead22c;"></div><svg style="left:951.6px;top:280.39px" width="6" height="6" viewBox="0 0 6 6"><path d="M1.2 3 L2.5 4.4 L4.8 1.4" stroke="#333" stroke-width="0.9" fill="none"/></svg><div class="t" style="left:964px;top:283.39px;font-size:5px;color:#9a9a9a;font-weight:normal;transform:translate(-50%,-50%);">Σ</div><div class="t" style="left:969.4px;top:283.49px;font-size:6.25px;color:#fff;font-weight:normal;transform:translate(0,-50%);-webkit-text-stroke:0.42px currentColor;">Montant HT</div><div class="r" style="left:937.4px;top:290.17999999999995px;width:86.6px;height:10px;background:#656565;"></div><div class="r" style="left:951.4px;top:291.97999999999996px;width:6.5px;height:6.5px;background:#f6f6f6;"></div><div class="t" style="left:969.4px;top:295.28px;font-size:6.25px;color:#fff;font-weight:normal;transform:translate(0,-50%);-webkit-text-stroke:0.42px currentColor;">Pays</div><div class="r" style="left:937.4px;top:301.96999999999997px;width:86.6px;height:10px;background:#656565;"></div><div class="r" style="left:951.4px;top:303.77px;width:6.5px;height:6.5px;background:#f6f6f6;"></div><div class="t" style="left:964px;top:306.96999999999997px;font-size:5px;color:#9a9a9a;font-weight:normal;transform:translate(-50%,-50%);">Σ</div><div class="t" style="left:969.4px;top:307.07px;font-size:6.25px;color:#fff;font-weight:normal;transform:translate(0,-50%);-webkit-text-stroke:0.42px currentColor;">Quantité</div><div class="r" style="left:937.4px;top:313.76px;width:86.6px;height:10px;background:#656565;"></div><div class="r" style="left:951.4px;top:315.56px;width:6.5px;height:6.5px;background:#f6f6f6;"></div><div class="t" style="left:969.4px;top:318.86px;font-size:6.25px;color:#fff;font-weight:normal;transform:translate(0,-50%);-webkit-text-stroke:0.42px currentColor;">Représentant</div><div class="r" style="left:937.4px;top:325.54999999999995px;width:86.6px;height:10px;background:#656565;"></div><div class="r" style="left:951.4px;top:327.34999999999997px;width:6.5px;height:6.5px;background:#f6f6f6;"></div><div class="t" style="left:969.4px;top:330.65px;font-size:6.25px;color:#fff;font-weight:normal;transform:translate(0,-50%);-webkit-text-stroke:0.42px currentColor;">Sous-famille ar...</div><div class="r" style="left:937.4px;top:337.34px;width:86.6px;height:10px;background:#656565;"></div><div class="r" style="left:951.4px;top:339.14px;width:6.5px;height:6.5px;background:#f6f6f6;"></div><div class="t" style="left:969.4px;top:342.44px;font-size:6.25px;color:#fff;font-weight:normal;transform:translate(0,-50%);-webkit-text-stroke:0.42px currentColor;">Ville</div><div class="r" style="left:837.4px;top:541.4px;width:186.6px;height:1.6px;background:#3c3c3c;"></div><div class="r" style="left:0px;top:0px;width:1024px;height:23.5px;background:#ffffff;"></div><div class="r" style="left:0px;top:23.5px;width:1024px;height:53.7px;background:#f5f5f5;border-bottom:0.8px solid #e0e0e0;"></div><div class="r" style="left:173px;top:0px;width:107px;height:11px;background:#a99cf0;"></div><div class="t" style="left:226px;top:4.6px;font-size:6.2px;color:#4b4590;font-weight:normal;transform:translate(-50%,-50%);">Outils pour les visuels</div><div class="r" style="left:173px;top:11px;width:107px;height:12px;background:#fdfdfd;border-left:1px solid #e3e1f2;border-right:1px solid #e3e1f2;box-sizing:border-box;"></div><div class="t" style="left:286.5px;top:4.4px;font-size:6.85px;color:#3a3a3a;font-weight:normal;transform:translate(0,-50%);">Sans titre - Power BI Desktop</div><div class="r" style="left:0px;top:0px;width:4.4px;height:5.6px;background:#e8c10e;"></div><svg style="left:0;top:0" width="90" height="11" viewBox="0 0 90 11"><rect x="16" y="0" width="7" height="7.5" fill="#5a5a8a"/><rect x="17.5" y="0" width="4" height="2.6" fill="#fff"/><rect x="17.8" y="4.6" width="3.4" height="2.9" fill="#dcdcea"/><path d="M29.5 3.2 Q33 0.5 35.2 3.6 Q35.8 5.6 33 6.8" stroke="#2d5f9e" stroke-width="1.4" fill="none"/><path d="M28.2 0.6 L28.6 4.6 L32 3.4 Z" fill="#2d5f9e"/><path d="M46.5 3.2 Q43 0.5 41 3.6 Q40.4 5.6 43 6.8" stroke="#b9c3d3" stroke-width="1.3" fill="none"/><path d="M47.6 0.6 L47.2 4.6 L44 3.4 Z" fill="#b9c3d3"/><circle cx="56" cy="3" r="4.7" fill="#f0d428"/><circle cx="54.6" cy="2.2" r="0.6" fill="#665"/><circle cx="57.4" cy="2.2" r="0.6" fill="#665"/><path d="M53.8 4.2 Q56 6.4 58.2 4.2" stroke="#665" stroke-width="0.6" fill="none"/><path d="M62 2.6 L65 2.6 L63.5 4.3 Z" fill="#5b6fa8"/><rect x="69" y="1.6" width="4.2" height="0.8" fill="#444"/><path d="M68.8 3.2 L73.4 3.2 L71.1 5.8 Z" fill="#444"/><rect x="78" y="0" width="0.6" height="7" fill="#ccc"/></svg><svg style="left:950px;top:0" width="74" height="11" viewBox="0 0 74 11"><rect x="8" y="2.6" width="4.6" height="0.9" fill="#333"/><rect x="34.2" y="1.2" width="4.6" height="4.2" fill="none" stroke="#333" stroke-width="1"/><rect x="35.4" y="0" width="4.4" height="1" fill="#333"/><path d="M61 0.5 L66 5.5 M66 0.5 L61 5.5" stroke="#333" stroke-width="0.9"/></svg><div class="r" style="left:0px;top:10px;width:30px;height:13.6px;background:#666666;"></div><div class="t" style="left:13.6px;top:17px;font-size:6.2px;color:#fff;font-weight:normal;transform:translate(-50%,-50%);">Fichier</div><div class="r" style="left:35.5px;top:11px;width:38.5px;height:13.5px;background:#f5f5f5;border:1px solid #f0f0f0;border-bottom:none;box-sizing:border-box;"></div><div class="t" style="left:51.5px;top:17px;font-size:6.35px;color:#3a3a3a;font-weight:normal;transform:translate(-50%,-50%);-webkit-text-stroke:0.05px currentColor;">Accueil</div><div class="t" style="left:96px;top:17px;font-size:6.35px;color:#3a3a3a;font-weight:normal;transform:translate(-50%,-50%);-webkit-text-stroke:0.05px currentColor;">Affichage</div><div class="t" style="left:144.5px;top:17px;font-size:6.35px;color:#3a3a3a;font-weight:normal;transform:translate(-50%,-50%);-webkit-text-stroke:0.05px currentColor;">Modélisation</div><div class="t" style="left:191px;top:17px;font-size:6.35px;color:#3a3a3a;font-weight:normal;transform:translate(-50%,-50%);-webkit-text-stroke:0.05px currentColor;">Format</div><div class="t" style="left:244.5px;top:17px;font-size:6.35px;color:#3a3a3a;font-weight:normal;transform:translate(-50%,-50%);-webkit-text-stroke:0.05px currentColor;">Données / Explorer</div><div class="t" style="left:953px;top:17px;font-size:6.8px;color:#2a2a2a;font-weight:normal;transform:translate(0,-50%);">Se connecter</div><svg style="left:1004px;top:13px" width="20" height="9" viewBox="0 0 20 9"><path d="M2.2 5 L4.6 2.6 L7 5" stroke="#bbb" stroke-width="0.7" fill="none"/><circle cx="18.3" cy="4.2" r="3.5" fill="#1f6fd0"/><text x="18.3" y="6.2" font-size="5" fill="#fff" text-anchor="middle" font-family="Liberation Sans" font-weight="bold">?</text></svg><div class="r" style="left:122.5px;top:27px;width:0.7px;height:47px;background:#e2e2e2;"></div><div class="r" style="left:298px;top:27px;width:0.7px;height:47px;background:#e2e2e2;"></div><div class="r" style="left:380px;top:27px;width:0.7px;height:47px;background:#e2e2e2;"></div><div class="r" style="left:508px;top:27px;width:0.7px;height:47px;background:#e2e2e2;"></div><div class="r" style="left:572.5px;top:27px;width:0.7px;height:47px;background:#e2e2e2;"></div><div class="r" style="left:607px;top:27px;width:0.7px;height:47px;background:#e2e2e2;"></div><div class="r" style="left:676.5px;top:27px;width:0.7px;height:47px;background:#e2e2e2;"></div><div class="r" style="left:706.5px;top:27px;width:0.7px;height:47px;background:#e2e2e2;"></div><div class="t" style="left:60px;top:71.5px;font-size:6px;color:#4a4a4a;font-weight:normal;transform:translate(-50%,-50%);">Presse-papiers</div><div class="t" style="left:210.5px;top:71.5px;font-size:6px;color:#4a4a4a;font-weight:normal;transform:translate(-50%,-50%);">Données externes</div><div class="t" style="left:338px;top:71.5px;font-size:6px;color:#4a4a4a;font-weight:normal;transform:translate(-50%,-50%);">Ressources</div><div class="t" style="left:443.5px;top:71.5px;font-size:6px;color:#4a4a4a;font-weight:normal;transform:translate(-50%,-50%);">Insérer</div><div class="t" style="left:540px;top:71.5px;font-size:6px;color:#4a4a4a;font-weight:normal;transform:translate(-50%,-50%);">Visuels personnalisés</div><div class="t" style="left:590px;top:71.5px;font-size:6px;color:#4a4a4a;font-weight:normal;transform:translate(-50%,-50%);">Relations</div><div class="t" style="left:642px;top:71.5px;font-size:6px;color:#4a4a4a;font-weight:normal;transform:translate(-50%,-50%);">Calculs</div><div class="t" style="left:690px;top:71.5px;font-size:6px;color:#4a4a4a;font-weight:normal;transform:translate(-50%,-50%);">Partager</div><div class="t" style="left:14px;top:52.5px;font-size:6.35px;color:#9a9a9a;font-weight:normal;transform:translate(-50%,-50%);">Coller</div><div class="t" style="left:37px;top:32.5px;font-size:6.35px;color:#262626;font-weight:normal;transform:translate(0,-50%);">Couper</div><div class="t" style="left:37px;top:45px;font-size:6.35px;color:#262626;font-weight:normal;transform:translate(0,-50%);">Copier</div><div class="t" style="left:37px;top:57.5px;font-size:6.35px;color:#262626;font-weight:normal;transform:translate(0,-50%);">Reproduire la mise en forme</div><div class="t" style="left:141.5px;top:52.5px;font-size:6.1px;color:#262626;font-weight:normal;transform:translate(-50%,-50%);">Obtenir les</div><div class="t" style="left:141.5px;top:60.5px;font-size:6.1px;color:#262626;font-weight:normal;transform:translate(-50%,-50%);">données <span style="font-size:4px;position:relative;top:-0.5px">&#9662;</span></div><div class="t" style="left:174px;top:52.5px;font-size:6.1px;color:#262626;font-weight:normal;transform:translate(-50%,-50%);">Sources</div><div class="t" style="left:174px;top:60.5px;font-size:6.1px;color:#262626;font-weight:normal;transform:translate(-50%,-50%);">récentes <span style="font-size:4px;position:relative;top:-0.5px">&#9662;</span></div><div class="t" style="left:204px;top:52.5px;font-size:6.1px;color:#262626;font-weight:normal;transform:translate(-50%,-50%);">Entrer des</div><div class="t" style="left:204px;top:60.5px;font-size:6.1px;color:#262626;font-weight:normal;transform:translate(-50%,-50%);">données</div><div class="t" style="left:240px;top:52.5px;font-size:6.1px;color:#262626;font-weight:normal;transform:translate(-50%,-50%);">Modifier les</div><div class="t" style="left:240px;top:60.5px;font-size:6.1px;color:#262626;font-weight:normal;transform:translate(-50%,-50%);">requêtes <span style="font-size:4px;position:relative;top:-0.5px">&#9662;</span></div><div class="t" style="left:279px;top:52.5px;font-size:6.1px;color:#262626;font-weight:normal;transform:translate(-50%,-50%);">Actualiser</div><div class="t" style="left:318px;top:52.5px;font-size:6.1px;color:#262626;font-weight:normal;transform:translate(-50%,-50%);">Modèles de</div><div class="t" style="left:318px;top:60.5px;font-size:6.1px;color:#262626;font-weight:normal;transform:translate(-50%,-50%);">solution</div><div class="t" style="left:356px;top:52.5px;font-size:6.1px;color:#262626;font-weight:normal;transform:translate(-50%,-50%);"><span style="letter-spacing:0.32px">Présentation</span></div><div class="t" style="left:356px;top:60.5px;font-size:6.1px;color:#262626;font-weight:normal;transform:translate(-50%,-50%);">de partenaire</div><div class="t" style="left:394.6px;top:52.5px;font-size:6.1px;color:#262626;font-weight:normal;transform:translate(-50%,-50%);">Nouvelle</div><div class="t" style="left:394.6px;top:60.5px;font-size:6.1px;color:#262626;font-weight:normal;transform:translate(-50%,-50%);">page <span style="font-size:4px;position:relative;top:-0.5px">&#9662;</span></div><div class="t" style="left:431px;top:52.5px;font-size:6.1px;color:#262626;font-weight:normal;transform:translate(-50%,-50%);">Nouvel</div><div class="t" style="left:431px;top:60.5px;font-size:6.1px;color:#262626;font-weight:normal;transform:translate(-50%,-50%);">élément visuel</div><div class="t" style="left:466px;top:32.5px;font-size:6.2px;color:#262626;font-weight:normal;transform:translate(0,-50%);">Zone de texte</div><div class="t" style="left:466px;top:45px;font-size:6.2px;color:#262626;font-weight:normal;transform:translate(0,-50%);">Image</div><div class="t" style="left:466px;top:57.5px;font-size:6.2px;color:#262626;font-weight:normal;transform:translate(0,-50%);">Formes <span style="font-size:4px;position:relative;top:-0.5px">&#9662;</span></div><div class="t" style="left:525px;top:52.5px;font-size:6.1px;color:#262626;font-weight:normal;transform:translate(-50%,-50%);">À partir</div><div class="t" style="left:525px;top:60.5px;font-size:6.1px;color:#262626;font-weight:normal;transform:translate(-50%,-50%);">du Store</div><div class="t" style="left:553.5px;top:52.5px;font-size:6.1px;color:#262626;font-weight:normal;transform:translate(-50%,-50%);">À partir d'</div><div class="t" style="left:553.5px;top:60.5px;font-size:6.1px;color:#262626;font-weight:normal;transform:translate(-50%,-50%);">un fichier</div><div class="t" style="left:589.5px;top:52.5px;font-size:6.1px;color:#8c8c8c;font-weight:normal;transform:translate(-50%,-50%);">Gérer les</div><div class="t" style="left:589.5px;top:60.5px;font-size:6.1px;color:#8c8c8c;font-weight:normal;transform:translate(-50%,-50%);">relations</div><div class="t" style="left:621px;top:32.5px;font-size:6.5px;color:#262626;font-weight:normal;transform:translate(0,-50%);">Nouvelle mesure</div><div class="t" style="left:621px;top:45px;font-size:6.6px;color:#262626;font-weight:normal;transform:translate(0,-50%);">Nouvelle colonne</div><div class="t" style="left:691px;top:52.5px;font-size:6.1px;color:#262626;font-weight:normal;transform:translate(-50%,-50%);">Publier</div><svg style="left:0;top:0" width="1024" height="78" viewBox="0 0 1024 78"><rect x="6.5" y="31" width="12" height="15" rx="1" fill="#ccd0ea"/><rect x="10" y="29.3" width="5" height="3" rx="1" fill="#b9bede"/><path d="M13 36 L19 36 L22 39 L22 46.5 L13 46.5 Z" fill="#f4f5fb" stroke="#ccd0ea" stroke-width="0.6"/><path d="M28.5 29.5 L33.5 36 M33.5 29.5 L28.5 36" stroke="#555" stroke-width="0.8" fill="none"/><circle cx="28.6" cy="36.3" r="1.2" fill="none" stroke="#7a86b8" stroke-width="0.7"/><circle cx="33.4" cy="36.3" r="1.2" fill="none" stroke="#7a86b8" stroke-width="0.7"/><rect x="26.8" y="41" width="4.6" height="6" fill="#fff" stroke="#777" stroke-width="0.7"/><rect x="29.6" y="43" width="4.6" height="6" fill="#e6e8f2" stroke="#777" stroke-width="0.7"/><path d="M27.5 59.5 L31 56" stroke="#b9c44a" stroke-width="1.6"/><path d="M30.5 55.5 L33.8 53.8 L32.2 57.2 Z" fill="#444"/><rect x="32.6" y="53" width="1.4" height="1.4" fill="#444"/><path d="M135.5 29.2 L142.5 29.2 L146.0 32.7 L146.0 46.0 L135.5 46.0 Z" fill="#fff" stroke="#9a9a9a" stroke-width="0.8"/><path d="M142.5 29.2 L142.5 32.7 L146.0 32.7" fill="none" stroke="#9a9a9a" stroke-width="0.7"/><rect x="143" y="36.2" width="7.6" height="10" rx="1.6" fill="#f0b64e"/><ellipse cx="146.8" cy="36.6" rx="3.8" ry="1.5" fill="#f7d089"/><path d="M143 40 Q146.8 42 150.6 40" stroke="#f7d9a0" stroke-width="0.7" fill="none"/><path d="M167.5 29.2 L174.5 29.2 L178.0 32.7 L178.0 46.0 L167.5 46.0 Z" fill="#fff" stroke="#a8a8a8" stroke-width="0.8"/><path d="M174.5 29.2 L174.5 32.7 L178.0 32.7" fill="none" stroke="#a8a8a8" stroke-width="0.7"/><circle cx="179" cy="41.6" r="3.8" fill="#fff" stroke="#8f8f8f" stroke-width="0.8"/><path d="M179 39.4 L179 41.8 L181 41.8" stroke="#8f8f8f" stroke-width="0.7" fill="none"/><rect x="196" y="29.8" width="16.8" height="14.2" fill="#fff" stroke="#9aa3b5" stroke-width="0.7"/><rect x="196" y="29.8" width="16.8" height="2.6" fill="#3a66ad"/><path d="M201.6 32.4 L201.6 44.0" stroke="#a9b1c2" stroke-width="0.6"/><path d="M207.2 32.4 L207.2 44.0" stroke="#a9b1c2" stroke-width="0.6"/><path d="M196 36.266666666666666 L212.8 36.266666666666666" stroke="#a9b1c2" stroke-width="0.6"/><path d="M196 40.13333333333333 L212.8 40.13333333333333" stroke="#a9b1c2" stroke-width="0.6"/><rect x="233.8" y="29.8" width="16.4" height="14.2" fill="#fff" stroke="#9aa3b5" stroke-width="0.7"/><rect x="233.8" y="29.8" width="16.4" height="2.6" fill="#3a66ad"/><path d="M239.26666666666668 32.4 L239.26666666666668 44.0" stroke="#a9b1c2" stroke-width="0.6"/><path d="M244.73333333333335 32.4 L244.73333333333335 44.0" stroke="#a9b1c2" stroke-width="0.6"/><path d="M233.8 36.266666666666666 L250.20000000000002 36.266666666666666" stroke="#a9b1c2" stroke-width="0.6"/><path d="M233.8 40.13333333333333 L250.20000000000002 40.13333333333333" stroke="#a9b1c2" stroke-width="0.6"/><path d="M241.5 45.2 L250 33.5" stroke="#2f558f" stroke-width="1.7"/><path d="M240.3 46.8 L241 44.6 L242.3 45.6 Z" fill="#333"/><path d="M273.2 29.2 L280.5 29.2 L284.0 32.7 L284.0 46.0 L273.2 46.0 Z" fill="#fff" stroke="#a8a8a8" stroke-width="0.8"/><path d="M280.5 29.2 L280.5 32.7 L284.0 32.7" fill="none" stroke="#a8a8a8" stroke-width="0.7"/><circle cx="284.6" cy="41.4" r="3.3" fill="#f5f5f5" stroke="#6f9a96" stroke-width="1.2"/><path d="M285.8 37 L288.4 38.6 L285.6 40 Z" fill="#6f9a96"/><path d="M283.4 45.8 L280.8 44.2 L283.6 42.8 Z" fill="#6f9a96"/><path d="M313 31.5 L316 31.5 Q314.8 28.4 317.6 28.4 Q320.4 28.4 319.2 31.5 L323 31.5 L323 35 Q326.2 33.8 326.2 36.8 Q326.2 39.8 323 38.6 L323 43 L319.4 43 Q320.4 45.6 317.6 45.6 Q314.8 45.6 316 43 L312.6 43 L312.6 39.4 Q309.4 40.6 309.4 37.4 Q309.4 34.4 312.6 35.4 Z" fill="#2f6cc0"/><ellipse cx="355.4" cy="43.6" rx="8.6" ry="2.3" fill="#f2c85a"/><path d="M352 35 Q355.4 31.2 358.8 35 L359.4 40.5 Q355.4 46.5 351.4 40.5 Z" fill="#2e6ab8"/><circle cx="355.4" cy="29.6" r="2" fill="#2b4f8c"/><rect x="387.6" y="29" width="16" height="16.4" fill="#fafafa" stroke="#b4b4b4" stroke-width="0.9"/><rect x="391" y="31.5" width="1.4" height="4.5" fill="#8fbf8a"/><rect x="393.4" y="30.4" width="1.4" height="5.6" fill="#e8843c"/><rect x="395.8" y="32.2" width="1.4" height="3.8" fill="#5b8cc8"/><rect x="398.2" y="30.8" width="1.4" height="5.2" fill="#d85a4a"/><path d="M388.5 43 Q391.5 38 394.5 41 Q397.5 43.6 400 40 L403 42.5 L403 44.8 L388.5 44.8 Z" fill="#e9a06a"/><path d="M388.5 41.5 Q392 39 395 41.6 Q398 43.6 403 39.6" stroke="#5b8cc8" stroke-width="0.8" fill="none"/><rect x="423.6" y="29" width="4" height="4" fill="#fbe9c8" stroke="#eccf95" stroke-width="0.5"/><rect x="425.6" y="36.6" width="3.6" height="8.8" fill="#86a4c8"/><rect x="430" y="30.2" width="3.8" height="15.2" fill="#4f9489"/><rect x="434.6" y="33.6" width="3.8" height="11.8" fill="#e8853e"/><rect x="454.8" y="28.6" width="8.6" height="7.4" fill="#fff" stroke="#8a8a8a" stroke-width="0.7"/><path d="M454.8 31.4 L458 31.4 M456.4 28.6 L456.4 33" stroke="#8a8a8a" stroke-width="0.6"/><rect x="454.8" y="40.6" width="8.6" height="7.4" fill="#fff" stroke="#8a8a8a" stroke-width="0.7"/><rect x="458" y="44" width="4.4" height="3.4" fill="#e8ebf5" stroke="#7a88b8" stroke-width="0.5"/><circle cx="458" cy="56.8" r="2.9" fill="#eef3fa" stroke="#3d78b8" stroke-width="0.7"/><rect x="458.6" y="56.4" width="4.8" height="4.2" fill="#eef3fa" stroke="#3d78b8" stroke-width="0.7"/><path d="M520.5 32.4 Q520.5 28.6 524 28.8 Q527.5 28.6 527.5 32.4" stroke="#e3c55a" stroke-width="0.9" fill="none"/><path d="M517.4 32 L531.6 31.4 L531.2 43.8 L517.8 43.8 Z" fill="#e8bf24"/><rect x="526.4" y="42" width="1.7" height="4.4" fill="#6d9ac8"/><rect x="528.8" y="39.6" width="1.7" height="6.8" fill="#4f9489"/><rect x="531.2" y="38.2" width="1.7" height="8.2" fill="#e8853e"/><path d="M546 33 L547.4 30.8 L552.6 30.8 L553.6 32 L561.6 32 L561.6 42 L546 42 Z" fill="#f7dfa6"/><path d="M545.4 42 L548 35.2 Q552 31.6 556 33.4 L562 33.4 L560.6 42 Z" fill="#eaaa4e"/><rect x="554.6" y="38.6" width="1.7" height="4.8" fill="#6d9ac8"/><rect x="557" y="36.4" width="1.7" height="7" fill="#4f9489"/><rect x="559.4" y="35" width="1.7" height="8.4" fill="#e8853e"/><rect x="590.4" y="28.6" width="8.4" height="5.6" fill="#f6f6fa" stroke="#b3b8d4" stroke-width="0.7"/><path d="M590.4 30.200000000000003 L598.8 30.200000000000003" stroke="#b3b8d4" stroke-width="0.7"/><rect x="580.8" y="34.6" width="8.4" height="5.6" fill="#f6f6fa" stroke="#b3b8d4" stroke-width="0.7"/><path d="M580.8 36.2 L589.1999999999999 36.2" stroke="#b3b8d4" stroke-width="0.7"/><rect x="590.4" y="40" width="8.4" height="5.6" fill="#f6f6fa" stroke="#b3b8d4" stroke-width="0.7"/><path d="M590.4 41.6 L598.8 41.6" stroke="#b3b8d4" stroke-width="0.7"/><path d="M589.2 37.4 L591.6 37.4 L591.6 34.2 M591.6 37.4 L594.4 37.4 L594.4 40" stroke="#b3b8d4" stroke-width="0.6" fill="none"/><rect x="615" y="29" width="4.2" height="7" fill="#fff" stroke="#7d7d7d" stroke-width="0.7"/><rect x="615.8" y="33.4" width="2.6" height="2" fill="#8a8a8a"/><path d="M612.4 29.4 L611 29.4 L611 35.6 L612.4 35.6" stroke="#b5b5b5" stroke-width="0.6" fill="none" stroke-dasharray="1 0.8"/><rect x="610.8" y="42" width="8.4" height="6.8" fill="#fff" stroke="#8d8d8d" stroke-width="0.6"/><path d="M613.6 42 L613.6 48.8 M616.4 42 L616.4 48.8 M610.8 45 L619.2 45" stroke="#a5a5a5" stroke-width="0.5"/><rect x="615.6" y="40.2" width="3.8" height="2.2" fill="#333"/><path d="M683 40 L683 30.4 Q683 28.6 684.8 28.6 L698.4 28.6 Q700.2 28.6 700.2 30.4 L700.2 38" fill="#fff" stroke="#8c8c8c" stroke-width="0.9"/><rect x="686" y="38.6" width="1.5" height="3.2" fill="#2c3a55"/><rect x="688.8" y="36.2" width="1.5" height="5.6" fill="#2c3a55"/><rect x="691.6" y="34.2" width="1.6" height="7.6" fill="#2c3a55"/><rect x="694.6" y="32" width="1.6" height="9" fill="#2c3a55"/><circle cx="696.8" cy="41.6" r="3.4" fill="#2f7fd6"/><path d="M696.8 43.6 L696.8 40.2 M695.2 41.4 L696.8 39.8 L698.4 41.4" stroke="#fff" stroke-width="0.8" fill="none"/></svg></div></body></html>
